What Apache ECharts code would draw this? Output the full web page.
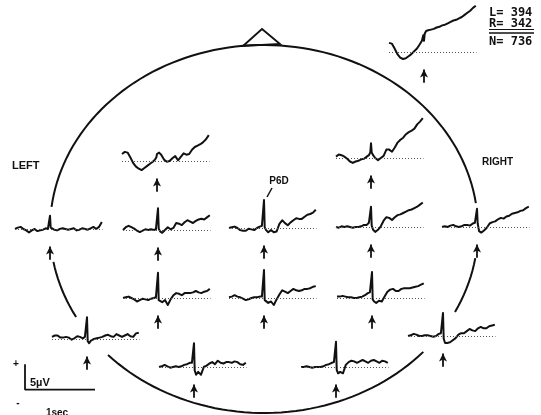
<!DOCTYPE html>
<html><head><meta charset="utf-8">
<script src="https://cdn.jsdelivr.net/npm/echarts@6/dist/echarts.min.js"></script>
<style>html,body{margin:0;padding:0;background:#fff}#c{width:541px;height:415px}</style>
</head><body><div id="c"></div>
<script>
// ---- DATA (time in sec from sweep start, amplitude in microvolts) ----
const T = [0,0.04,0.08,0.12,0.16,0.20,0.24,0.28,0.32,0.36,0.40,0.44,0.47,0.49,0.50,0.51,0.53,0.56,0.60,0.64,0.68,0.72,0.76,0.80,0.84,0.88,0.92,0.96,1.00,1.04,1.08,1.12,1.16,1.20,1.24];
const EVENT_T = 0.5;
const avgWave = [1.3,1.2,0.5,-0.3,-0.8,-1.0,-0.9,-0.6,-0.3,0.1,0.5,1.1,1.6,2.4,1.6,2.6,3.0,3.1,3.2,3.3,3.5,3.6,3.8,3.9,4.1,4.3,4.5,4.6,4.8,5.0,5.3,5.6,5.9,6.3,6.6];
const r1Left = [1.0,1.3,1.2,0.5,-0.3,-0.8,-1.1,-1.3,-1.0,-0.7,-0.4,-0.1,0.2,0.5,1.0,1.1,1.2,0.9,0.2,-0.1,0.0,0.4,0.7,0.1,0.6,1.1,0.9,1.0,1.6,2.0,2.2,2.4,2.7,3.1,3.7];
const r1Right = [0.2,0.5,0.4,0.2,-0.1,-0.5,-0.7,-0.5,-0.4,-0.2,-0.1,0.2,0.4,0.8,2.1,0.8,0.4,0.0,-0.3,0.0,0.3,1.2,1.2,0.9,1.5,2.2,2.6,2.9,3.4,3.7,3.9,4.2,4.8,5.2,5.7];
const r2a = [0.0,0.2,0.3,0.0,-0.2,-0.5,-0.2,0.0,-0.3,-0.2,-0.1,0.1,0.0,0.1,1.9,0.2,0.1,-0.1,-0.2,0.0,0.1,0.0,-0.1,0.0,0.1,-0.2,-0.1,0.1,0.0,-0.1,0.1,0.3,0.0,0.3,1.0];
const r2b = [0.0,0.4,0.6,0.4,0.2,-0.1,-0.3,-0.1,0.1,0.0,0.1,0.0,0.1,0.3,3.1,0.2,-0.2,-0.4,0.0,0.4,0.1,0.3,1.0,0.9,0.7,1.1,1.4,1.2,1.0,1.3,1.5,1.6,1.5,1.8,2.1];
const r2c = [0.0,0.1,0.2,0.0,-0.3,-0.4,-0.4,-0.1,-0.2,-0.3,0.0,0.2,0.3,0.4,4.0,0.1,-0.3,-0.6,-0.3,-0.6,-0.5,0.6,1.1,0.7,0.4,0.8,1.1,1.4,1.3,1.3,1.6,1.9,2.0,2.2,2.6];
const r2d = [0.0,-0.1,0.1,0.0,0.1,0.0,-0.1,0.0,0.0,0.1,0.3,0.3,0.6,0.7,2.9,0.2,-0.4,-0.7,-0.4,0.1,0.9,1.4,1.3,1.0,1.4,1.7,1.8,2.0,2.2,2.4,2.5,2.7,2.9,3.2,3.5];
const r2e = [0.0,0.1,0.0,0.2,0.3,0.1,0.0,0.1,0.3,0.3,0.2,0.5,0.6,0.8,2.6,0.5,-0.6,-0.8,-0.5,-0.1,0.5,0.7,0.8,1.1,1.3,1.2,1.5,1.6,1.9,2.0,2.1,2.3,2.4,2.7,2.9];
const r3b = [0.0,0.1,0.2,0.0,-0.2,-0.5,-0.3,-0.1,-0.2,-0.3,-0.1,0.0,0.1,0.2,3.6,-0.3,-0.4,-0.6,-0.3,-1.0,-0.2,0.4,0.7,0.6,0.4,0.7,0.7,0.7,0.8,1.0,0.8,0.7,0.9,1.0,1.3];
const r3c = [0.1,0.2,0.4,0.2,0.1,-0.1,-0.3,-0.2,0.0,0.1,0.1,0.2,0.2,0.3,4.0,-0.3,-0.5,-0.7,-0.5,-1.0,-0.2,0.5,1.1,0.9,0.7,1.0,1.3,1.1,1.0,1.1,1.3,1.3,1.4,1.6,1.7];
const r3d = [0.2,0.2,0.3,0.2,0.1,0.1,0.0,0.0,0.1,0.2,0.4,0.7,0.8,0.9,3.7,-0.2,-0.5,-0.7,-0.4,-0.5,0.2,0.9,1.2,1.3,1.0,1.0,1.3,1.4,1.4,1.4,1.5,1.6,1.7,1.9,2.1];
const r4a = [0.3,0.5,0.5,0.2,0.2,0.3,0.2,-0.1,0.1,0.4,0.3,0.1,0.3,0.4,3.1,-0.3,-0.6,-0.2,0.0,0.1,0.2,0.3,0.5,0.6,0.4,0.3,0.7,0.5,0.3,0.5,0.7,0.4,0.3,0.8,0.9];
const r4b = [0.0,0.1,0.3,0.2,0.0,0.0,0.1,0.1,0.0,-0.1,0.0,0.3,0.4,0.5,3.3,-0.4,-1.0,-1.0,-0.9,-0.6,-0.3,0.2,0.4,0.4,0.7,1.0,0.8,0.7,1.1,1.3,1.1,1.1,1.4,1.5,1.6];
const r5a = [0.0,0.1,0.3,0.1,-0.1,0.0,0.1,0.0,0.1,0.3,0.4,0.6,0.6,0.7,3.4,-0.5,-1.1,-0.7,-1.1,0.0,0.2,0.5,0.7,0.4,0.9,0.6,0.5,0.7,0.7,0.6,0.8,0.7,0.4,0.3,0.6];
const r5b = [0.0,0.0,0.1,0.0,-0.1,0.0,0.0,0.0,0.1,0.3,0.4,0.6,0.7,0.8,3.6,-0.4,-0.9,-0.7,-0.9,0.3,0.7,0.9,0.8,0.6,0.8,1.0,0.8,0.6,0.9,1.0,0.8,0.6,0.9,0.8,0.6];
const scaleBarUV = 5, scaleBarSec = 1;
const counts = {L: 394, R: 342, N: 736};

// ---- LAYOUT ----
const PX_PER_SEC = 70, PX_PER_UV = 7;
const X_MAX = 1.25, Y_MIN = -5, Y_MAX = 7;
const panels = [
  {w: avgWave, x0: 389, base: 52},
  {w: r1Left, x0: 122, base: 161},
  {w: r1Right, x0: 336, base: 158},
  {w: r2a, x0: 15, base: 229},
  {w: r2b, x0: 123, base: 230},
  {w: r2c, x0: 229, base: 228},
  {w: r2d, x0: 336, base: 227},
  {w: r2e, x0: 442, base: 227},
  {w: r3b, x0: 123, base: 298},
  {w: r3c, x0: 229, base: 298},
  {w: r3d, x0: 337, base: 298},
  {w: r4a, x0: 52, base: 339},
  {w: r4b, x0: 408, base: 336},
  {w: r5a, x0: 159, base: 367},
  {w: r5b, x0: 301, base: 367}
];
const scalePanel = {x0: 25, base: 403};

const grids = [], xAxes = [], yAxes = [], series = [];
function addGrid(x0, base) {
  const i = grids.length;
  grids.push({left: x0, top: base - Y_MAX * PX_PER_UV, width: X_MAX * PX_PER_SEC,
              height: (Y_MAX - Y_MIN) * PX_PER_UV, containLabel: false, show: false});
  xAxes.push({gridIndex: i, type: 'value', min: 0, max: X_MAX, show: false});
  yAxes.push({gridIndex: i, type: 'value', min: Y_MIN, max: Y_MAX, show: false});
  return i;
}
panels.forEach(p => {
  const i = addGrid(p.x0, p.base);
  series.push({
    type: 'line', xAxisIndex: i, yAxisIndex: i, symbol: 'none', animation: false, silent: true,
    data: T.map((t, k) => [t, p.w[k]]),
    lineStyle: {color: '#111', width: 2.0, join: 'round'},
    markLine: {
      silent: true, animation: false, symbol: 'none', label: {show: false},
      data: [
        {yAxis: 0, lineStyle: {type: [1, 2], color: '#555', width: 1}},
        [{coord: [EVENT_T, -4.4], symbol: 'none', lineStyle: {type: 'solid', color: '#111', width: 1.8}},
         {coord: [EVENT_T, -2.5], symbol: 'arrow', symbolSize: [6, 8]}]
      ]
    }
  });
});
const si = addGrid(scalePanel.x0, scalePanel.base);
series.push({
  type: 'line', xAxisIndex: si, yAxisIndex: si, symbol: 'none', animation: false, silent: true,
  data: [[0, scaleBarUV], [0, 0], [scaleBarSec, 0]],
  lineStyle: {color: '#111', width: 1.8}
});

// ---- head outline (decoration) ----
const head = {cx: 264, cy: 229, rx: 214, ry: 184};
const arcs = [[9.1, 26.8], [41.9, 136.8], [151.4, 169.7], [186.9, 351.9]];
const graphics = arcs.map(([a0, a1]) => {
  const pts = [];
  for (let a = a0; a <= a1 + 1e-6; a += (a1 - a0) / Math.ceil((a1 - a0) / 2)) {
    const r = a * Math.PI / 180;
    pts.push([head.cx + head.rx * Math.cos(r), head.cy + head.ry * Math.sin(r)]);
  }
  return {type: 'polyline', shape: {points: pts}, style: {stroke: '#111', lineWidth: 2, fill: null}, silent: true};
});
graphics.push({type: 'polygon', shape: {points: [[243, 46], [262, 29], [280, 44]]}, style: {stroke: '#111', lineWidth: 1.8, fill: null}});

const boldSans = "'Liberation Sans', 'DejaVu Sans', sans-serif";
const mono = "'DejaVu Sans Mono', 'Liberation Mono', monospace";
function txt(x, y, s, size, font, align, extra) {
  return Object.assign({type: 'text', x: x, y: y, silent: true,
    style: {text: s, fill: '#111', font: 'bold ' + size + 'px ' + font, textAlign: align || 'left', textVerticalAlign: 'middle'}}, extra || {});
}
graphics.push(txt(12, 166, 'LEFT', 11, boldSans));
graphics.push(txt(482, 162, 'RIGHT', 10, boldSans));
graphics.push(txt(279, 181, 'P6D', 10, boldSans, 'center'));
graphics.push({type: 'line', shape: {x1: 272, y1: 188, x2: 267, y2: 197}, style: {stroke: '#111', lineWidth: 1.5}});
graphics.push(txt(489, 13, 'L= ' + counts.L, 12, mono));
graphics.push(txt(489, 24, 'R= ' + counts.R, 12, mono));
graphics.push({type: 'line', shape: {x1: 489, y1: 29.5, x2: 534, y2: 29.5}, style: {stroke: '#111', lineWidth: 1}});
graphics.push({type: 'line', shape: {x1: 489, y1: 33, x2: 534, y2: 33}, style: {stroke: '#111', lineWidth: 1.5}});
graphics.push(txt(489, 42, 'N= ' + counts.N, 12, mono));
graphics.push(txt(16, 364, '+', 10, boldSans, 'center'));
graphics.push(txt(18, 403, '-', 10, boldSans, 'center'));
graphics.push(txt(30, 383, scaleBarUV + 'µV', 11, boldSans));
graphics.push(txt(57, 413, scaleBarSec + 'sec', 10, boldSans, 'center'));

const chart = echarts.init(document.getElementById('c'), null, {renderer: 'canvas'});
chart.setOption({
  animation: false, backgroundColor: '#fff',
  grid: grids, xAxis: xAxes, yAxis: yAxes, series: series, graphic: graphics
});
</script></body></html>
